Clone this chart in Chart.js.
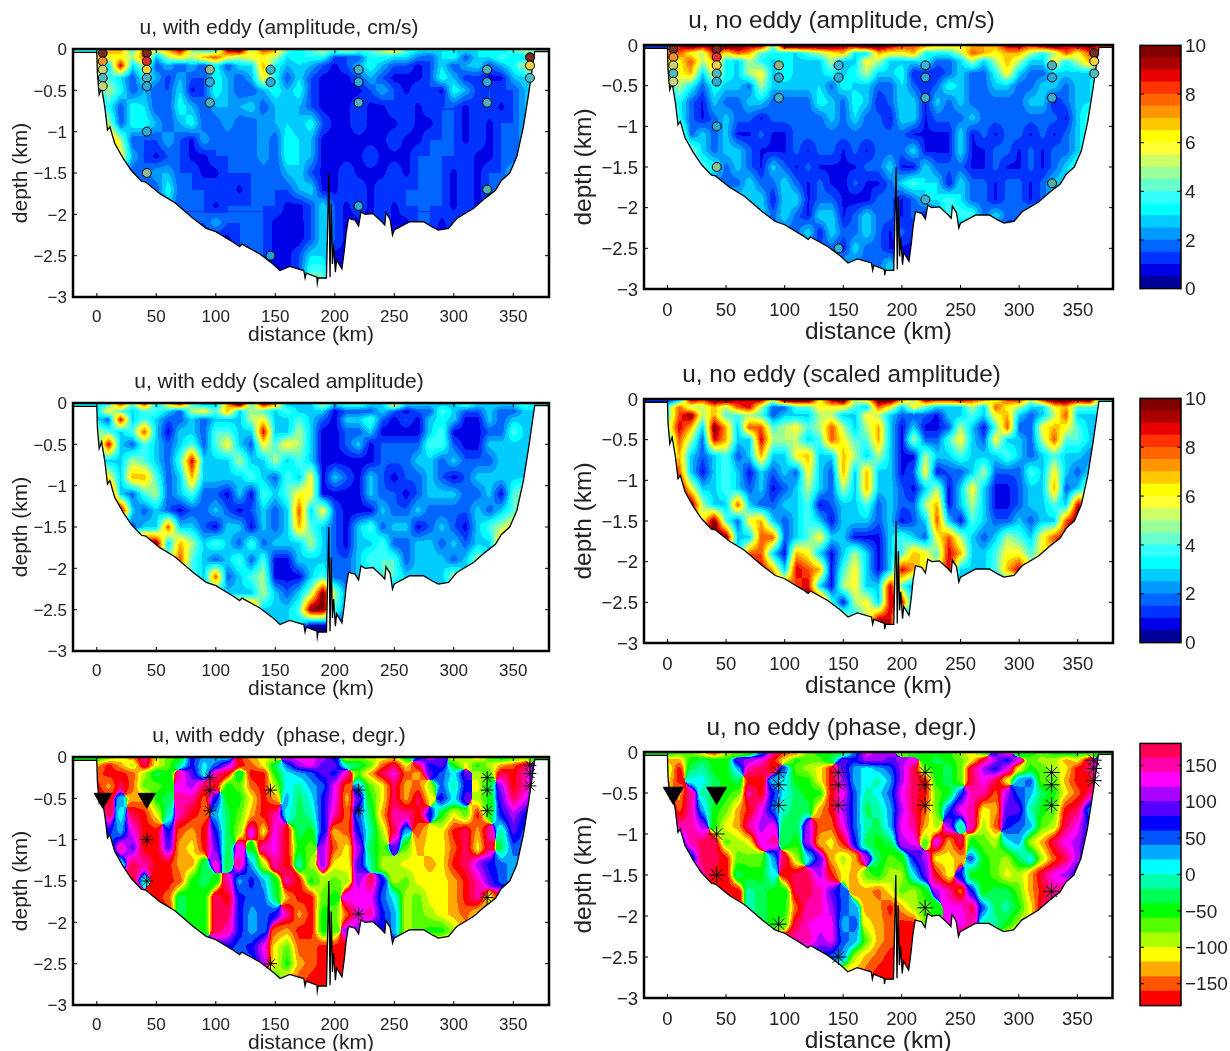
<!DOCTYPE html>
<html>
<head>
<meta charset="utf-8">
<script src="https://cdn.jsdelivr.net/npm/chart.js@4"></script>
<style>
  html, body { margin: 0; padding: 0; background: #fff; overflow: hidden; }
  body { position: relative; width: 1230px; height: 1051px; }
  canvas { position: absolute; }
</style>
</head>
<body>
<script>
// depth of each grid row (km) and the first station (km) each row holds; stations are 10 km apart
const rowDepths = [0.02, 0.1, 0.2, 0.35, 0.5, 0.7, 0.9, 1.1, 1.3, 1.5, 1.7, 1.9, 2.1, 2.3, 2.5, 2.7];
const rowFirstKm = [0, 0, 0, 0, 0, 0, 0, 10, 20, 30, 50, 60, 80, 110, 130, 150];

const ampEddy = [
  [3.5,7,7,4,8,5,7,9,5,4,4,9,10,5,8,7,4,3,4,5,4,5,4,4,5,6,4,3,3,3,3,3,3,3,3,4,5,4],
  [7,6,6,5,8,2.5,5,6,5,7,8,6,5,6,6,5,3,3.5,3.5,3.5,1.5,1.5,1.5,3.5,3.5,3,3,2,1.5,3,3.5,1.5,3,3,4,3,3,3],
  [6,3,9,3,5,1.5,2.5,1.5,2.5,1.5,3.5,1.5,3,3,7,3.5,2.5,3,2.5,1.5,.8,1.5,2.5,3.5,2.5,1.5,1.5,.8,1.5,3,1.5,2.5,3,1.5,2.5,3.5,5,4],
  [5,4,3,1.5,3.5,2.5,1.2,2.5,1.5,1.5,3.5,2.5,1.5,2.5,6,3.5,1.5,3,1.5,.8,.8,.8,1.5,2.5,1.5,.8,.8,.8,1.5,3.5,2.5,1.2,1.2,.8,.8,2.5,3,4],
  [3,5,3.5,1.5,2.5,1.5,1.5,3,.8,1.5,3.5,2.5,1.5,1.5,2.5,3.5,2.5,3.5,1.5,.8,.8,.8,.8,1.5,2.5,1.5,.8,1.5,1.5,.8,3.5,2.5,1.2,1.5,1.5,1.5,2.5,3],
  [3,3.5,1.5,3.5,3,1.5,1.5,3.5,2.5,1.5,2.5,2.5,2.5,3,1.5,2.5,3,2.5,1.5,.8,.8,.8,1.5,.8,.8,1.5,1.5,.8,1.5,1.5,1.5,.8,1.5,1.5,.8,1.5,2.5],
  [6,5,1.5,3.5,3.5,2.5,1.5,2.5,3.5,1.5,1.5,2.5,1.5,1.5,2.5,2.5,3,2.5,3.5,1.5,.8,.8,1.5,.8,.8,.8,1.5,.8,.8,1.5,1.5,.8,1.5,.8,1.5,1.5,2.5],
  [8,5,1.5,1.5,1.5,2.5,1.5,.8,2.5,1.5,1.5,1.5,1.5,2.5,1.5,3.5,3,2.5,.8,.8,.8,.8,.8,.8,1.5,.8,.8,1.5,1.5,1.5,.8,1.5,.8,1.5,1.5,2.5],
  [6,2.5,1.5,.8,1.5,1.5,.8,.8,1.5,1.5,1.5,1.5,2.5,1.5,3.5,3,2.5,.8,.8,.8,.8,1.5,.8,.8,.8,1.5,1.5,1.5,1.5,1.5,.8,.8,1.5,1.5,3],
  [1.5,1.5,2.5,2.5,1.5,1.5,.8,.8,1.5,1.5,1.5,1.5,1.5,2.5,3,1.5,.8,.8,1.5,.8,.8,.8,1.5,.8,1.5,1.5,1.5,.8,1.5,.8,1.5,1.5,3],
  [1.5,3.5,1.5,1.5,1.5,1.5,1.5,.8,1.5,1.5,1.5,1.5,2.5,3,.8,.8,1.5,1.5,.8,1.5,1.5,1.5,1.5,1.5,1.5,.8,1.5,.8,1.5,1.5],
  [2.5,1.5,1.5,1.5,.8,1.5,1.5,1.5,1.5,1.5,.8,.8,1.5,3,1.5,.8,1.5,.8,1.5,.8,1.5,1.5,1.5,1.5,.8,1.5,.8,1.5],
  [1.5,1.5,2.5,1.5,1.5,1.5,1.5,.8,.8,.7,1.5,3,1.5,.8,.8,.8,1.5,.8,.8,1.5,1.5,.8,1.5,1.5],
  [.8,1.5,1.5,1.5,.8,.7,.7,1.5,3,1.5,.8],
  [1.5,1.5,.8,.8,1.5,3,3,.8,.8],
  [.8,.8,1.5,4,4,.8]
];
const ampNoEddy = [
  [1,9,10,9,10,10,10,9,9,4,10,10,10,10,10,9,9,10,10,9,8,8,7,6,6,6,7,7,7,9,9,8,9,10,9,9,10,8],
  [8,8,6,5,9,6,8,7,4,3.5,3,3,4,5,6,7,3,3,7,6,6,7,3.5,3.5,3.5,5,8,7,6,7,7,5,3.5,5,8,6,8,6],
  [6,6,8,5,7,3.5,2.8,5,3.5,2.8,3.5,2.8,2.8,2.8,5,2.8,2.8,6,5,2.8,2.8,2.8,3.5,1.7,1.7,2.8,5,2.8,5,7,5,2.8,2.8,6,3.5,5,7,5],
  [5,6,7,2.8,6,3.5,2.8,5,6,2.8,3.5,2.8,2.8,2.8,3.5,2.8,3.5,5,2.8,2.8,3.5,1,1,1,1.7,2.8,1.7,1.7,3.5,6,2.8,1.7,1.7,2.8,2.8,2.8,2.8,4],
  [3,5,3.5,1.7,3.5,2.8,2.8,1.7,5,2.8,2.8,2.8,2.8,3,1.7,3.5,2.8,2.8,1.7,1.7,3,1.7,1,1.7,3.5,2.8,1.7,1.7,2.8,2.8,1.7,1.7,2.8,2.8,1.7,2.8,3,4],
  [3,3.5,1.7,.9,2.8,1.7,1.7,2.8,2.8,1.7,1.7,1.7,1.7,3.5,2.8,1.7,3.5,2.8,1,1.7,3,2.8,1,2.8,1.7,2.8,1.7,1.7,1.7,1.7,1.7,2.8,2.8,.9,1.7,2.8,3],
  [6,3.5,1.7,.9,1.7,2.8,1.7,1.7,.9,1.7,1.7,1.7,1.7,1.7,2.8,1.7,3,1.7,1.7,.9,3,2.8,.9,1.7,1.7,1.7,2.8,1.7,1.7,1.7,1.7,1.7,1.7,1.7,.9,2.8,4],
  [6,1.7,2.8,1.7,2.8,.9,.9,1.7,.9,.9,1.7,1.7,1.7,1.7,1.7,1.7,1.7,1.7,1.7,1.7,.9,.9,.9,.9,3,.9,1.7,.9,1.7,1.7,.9,1.7,.9,1.7,2.8,4],
  [5,2.8,1.7,2.8,2.8,1.7,.9,.9,.9,1.7,.9,1.7,1.7,.9,1.7,.9,1.7,1.7,1.7,3,.9,.9,.9,3,.9,.9,1.7,1.7,.9,1.7,.9,1.7,1.7,2.8,4],
  [4,3.5,1.7,2.8,1.7,.9,2.8,1.7,.9,1.7,.9,.9,.9,.9,1.7,1.7,3,.9,.9,3,1.7,1.7,1.7,.9,.9,1.7,.9,.9,1.7,.9,1.7,2.8,4],
  [1.7,1.7,3,1.7,1.7,3,1.7,.9,1.7,.9,.7,1.7,.9,.9,1.7,3,4,3,3,.9,3,1.7,1.7,.9,1.7,1.7,.9,1.7,2.8,3],
  [3,2.8,3,.9,3,3,.9,1.7,1.7,.9,.7,.7,1.7,1.7,.9,1.7,3,3,4,3,1.7,1.7,.9,1.7,1.7,.9,1.7,3],
  [3,1.7,3,1.7,.9,3,3,.9,1.7,3,1.7,1.7,.9,1.7,.9,1.7,4,4,4,1.7,3,1.7,1.7,3],
  [1.7,3,.9,3,1.7,1.7,3,1.7,.9,1.7,.9],
  [1.7,1.7,.9,3,1.7,1.7,.9,.9,.9],
  [3,1.7,1.7,1.7,3,.9]
];
const scaledEddy = [
  [3,4,8,4,8,2.8,6,8,4,2.8,2.8,7,10,4,9,7,2.8,2.8,2.8,5,2.8,4,4,2.8,2.8,6,2.8,2.8,2.8,2.8,2.8,4,2.8,2.8,2.8,2.8,4,3],
  [3,6,4,2.8,4,4,2.8,1.6,5,6,4,7,2.8,5,4,2.8,4,2.8,2.8,2.8,.7,1.6,1.6,1.6,2.8,1.6,.7,1.6,1.6,4,2.8,1.6,1.6,2.8,1.6,1.6,2.8,3],
  [3,1.6,9,2.8,4,2.8,1.6,1.6,2.8,1.6,2.8,2.8,2.8,5,6,2.8,2.8,4,2.8,1.6,.7,2.8,2.8,4,1.6,.7,1.6,.7,2.8,3.2,2.8,.7,.7,2.8,1.6,2.8,2.8,3],
  [5,4,2.8,4,8,2.8,.7,2.8,2.8,1.6,4,4,2.8,2.8,9,2.8,2.8,5,2.8,.7,.7,1.6,1.6,2.8,.7,.7,.7,.7,2.8,4,.7,.7,.7,1.6,1.6,4,2.8,3],
  [3,9,2.8,1.6,4,2.8,1.6,2.8,4,1.6,4,6,2.8,1.6,6,4,6,5,2.8,.7,.7,1.6,2.8,.7,1.6,1.6,1.6,1.6,4,4,1.6,.7,.7,2.8,2.8,2.8,2.8,3],
  [3,2.8,2.8,5,4,2.8,1.6,4,9,2.8,2.8,2.8,5,2.8,2.8,5,2.8,4,2.8,.7,.7,.7,.7,.7,1.6,1.6,1.6,2.8,2.8,1.6,2.8,1.6,1.6,1.6,2.8,2.8,3],
  [9,6,2.8,7,7,4,1.6,2.8,7,2.8,2.8,2.8,2.8,4,2.8,1.6,4,2.8,6,.7,2.8,1.6,.7,2.8,1.6,.7,1.6,1.6,2.8,1.6,.7,1.6,2.8,2.8,2.8,2.8,3],
  [10,2.8,1.6,4,5,1.6,2.8,4,1.6,1.6,.7,2.8,.7,4,2.8,4,6,6,.7,.7,.7,.7,2.8,1.6,1.6,.7,1.6,2.8,2.8,2.8,1.6,1.6,2.8,.7,4,5],
  [10,2.8,1.6,2.8,1.6,.7,1.6,1.6,2.8,1.6,.7,1.6,2.8,1.6,2.8,8,2.8,6,1.6,.7,.7,.7,2.8,1.6,1.6,2.8,1.6,1.6,1.6,1.6,2.8,1.6,2.8,4,5],
  [1.6,2.8,2.8,8,2.8,2.8,1.6,.7,2.8,2.8,.7,2.8,1.6,2.8,7,4,2.8,1.6,.7,2.8,4,1.6,2.8,2.8,.7,1.6,2.8,1.6,.7,2.8,4,5,6],
  [10,2.8,7,5,2.8,4,2.8,1.6,4,1.6,2.8,2.8,2.8,5,2.8,1.6,.7,2.8,2.8,4,1.6,1.6,2.8,2.8,1.6,2.8,1.6,2.8,2.8,7],
  [5,8,4,2.8,1.6,2.8,4,1.6,4,.7,.7,2.8,2.8,2.8,1.6,1.6,2.8,4,4,4,1.6,2.8,2.8,2.8,1.6,2.8,5,3],
  [4,2.8,8,1.6,2.8,4,5,.7,.7,.7,2.8,4,1.6,1.6,2.8,2.8,4,4,2.8,2.8,2.8,2.8,5,3],
  [2.8,2.8,2.8,5,2.8,1.6,2.8,5,10,5,2],
  [9,2.8,2.8,2.8,4,10,10,4,2],
  [3,3,3,0,0,1]
];
const scaledNoEddy = [
  [1,3,9,8,10,10,9,9,9,5,10,10,10,6,9,10,5,6,10,10,7,5,9,8,8,9,8,7,6,8,8,5,8,10,10,9,10,3],
  [4,8,5,5,7,5,8,9,5,1.6,1.6,4,4,6,6,6,4,2.8,8,6,2.8,6,4,2.8,2.8,2.8,5,2.8,8,6,5,2.8,2.8,6,7,4,4,4],
  [4,8,10,5,7,4,4,5,4,1.6,2.8,2.8,2.8,5,5,2.8,2.8,6,5,2.8,1.6,1.6,1.6,.8,2.8,2.8,4,2.8,6,7,2.8,1.6,2.8,5,8,2.8,2.8,3],
  [5,9,7,2.8,10,7,2.8,8,8,4,5,6,4,5,8,5,2.8,5,7,2.8,.8,2.8,.8,.8,1.6,5,2.8,.8,4,8,1.6,1.6,6,7,6,4,2.8,3],
  [3,8,5,1.6,9,7,2.8,2.8,9,5,5,5,2.8,4,8,6,4,4,7,2.8,.8,5,1.6,1.6,4,6,2.8,1.6,6,2.8,2.8,1.6,5,8,4,4,3],
  [3,7,2.8,1.6,2.8,4,1.6,2.8,7,2.8,2.8,6,7,2.8,2.8,7,5,2.8,5,2.8,.8,.8,5,2.8,2.8,4,2.8,2.8,2.8,4,2.8,1.6,2.8,4,2.8,2.8,2],
  [8,8,2.8,.8,2.8,4,2.8,.8,2.8,1.6,2.8,1.6,6,2.8,1.6,7,2.8,7,2.8,2.8,.8,1.6,6,.8,1.6,1.6,2.8,5,1.6,1.6,1.6,4,2.8,6,2.8,1.6,3],
  [10,6,2.8,2.8,4,2.8,1.6,2.8,.8,1.6,2.8,5,2.8,1.6,5,2.8,7,2.8,2.8,1.6,.8,2.8,5,.8,2.8,6,2.8,.8,.8,1.6,2.8,2.8,7,1.6,2.8,5],
  [10,5,2.8,2.8,8,2.8,1.6,1.6,2.8,2.8,4,.8,1.6,2.8,2.8,4,1.6,2.8,1.6,1.6,5,7,.8,2.8,5,2.8,.8,.8,1.6,2.8,2.8,4,2.8,9,8],
  [6,10,4,1.6,6,7,2.8,1.6,2.8,4,2.8,.8,2.8,2.8,2.8,1.6,2.8,.8,1.6,2.8,8,2.8,.8,4,2.8,1.6,1.6,2.8,1.6,2.8,2.8,8,10],
  [10,2.8,2.8,8,8,1.6,2.8,4,6,2.8,2.8,.8,.8,.8,2.8,4,2.8,1.6,6,8,5,2.8,1.6,2.8,5,4,2.8,6,8,9],
  [3,8,8,2.8,.8,7,6,2.8,.8,2.8,5,2.8,.8,2.8,4,7,6,4,9,7,2.8,2.8,4,6,6,4,6,7],
  [9,7,2.8,9,8,7,.8,4,6,2.8,.8,2.8,9,7,6,6,9,2.8,2.8,2.8,4,7,9,6],
  [8,9,2.8,.8,5,6,2.8,2.8,9,4,2],
  [10,4,.8,5,6,2.8,9,9,2],
  [6,3,5,9,9,2]
];
const phaseEddy = [
  [-50,-90,-110,-130,150,-110,-70,-50,70,30,30,30,-170,-130,-110,-90,110,130,130,110,70,-90,-70,-90,-110,-130,-50,70,110,90,-90,-90,-110,-70,-50,-70,-90,-50],
  [-130,-170,-130,-90,170,-110,-70,-10,70,10,50,110,-170,-150,-110,-30,50,110,130,90,90,-10,-30,-70,-150,170,-110,170,70,90,-50,-110,-50,-90,-130,-150,170,70],
  [-150,-170,-170,-150,-90,-30,-50,150,90,10,150,-170,-30,-170,-170,-50,10,30,50,90,70,150,-70,-130,170,130,-150,-130,90,50,10,90,-90,-70,170,-170,150,70],
  [-170,-130,170,-150,-70,-70,-50,130,110,170,-170,-50,-70,-150,-170,-90,10,-10,30,50,130,-150,30,-70,-110,170,-130,-150,-90,50,-10,70,-110,-30,110,-170,150,70],
  [170,-170,30,-130,-130,-50,-30,150,150,-150,70,-50,-50,-110,-170,-130,30,-30,10,70,130,-130,90,-50,-110,170,-130,170,-110,70,10,90,-90,-50,90,170,130,50],
  [70,170,10,170,-170,-110,-10,150,-170,-150,30,-30,-70,-130,-170,150,10,-30,-10,70,150,-150,50,-30,-130,150,150,-170,70,-50,-110,-70,-170,-50,70,110,70],
  [30,70,30,130,-170,-170,70,-150,-130,-170,70,-30,-90,130,-110,130,-170,-30,-50,70,-130,-150,70,-10,-90,170,30,-150,-110,-110,-170,170,-130,150,-10,90,50],
  [30,150,90,-170,-170,90,-130,-110,-170,90,-30,130,-50,150,130,-170,-50,-70,110,-150,-110,110,-30,-70,90,-70,-130,-110,-110,-150,170,-110,170,-30,50,50],
  [10,170,150,-170,-170,-130,-130,-30,130,-30,150,30,-90,150,-170,-10,-90,110,-110,-110,90,-10,-90,-90,-110,-110,-130,-110,-170,170,110,70,50,30,30],
  [170,10,-170,-170,-150,-50,-30,-50,150,30,70,30,-50,150,-170,-50,-90,-70,-90,110,170,70,-90,-70,-110,-110,-110,-130,-170,150,90,50,30],
  [-170,-150,-30,-50,-50,170,-170,70,50,50,-30,-130,-170,-170,-70,-50,130,130,130,50,10,-90,-70,-110,-110,-130,-170,150,-110,170],
  [-170,-30,-50,-50,170,170,70,30,50,70,150,-130,-170,-50,-70,-150,130,150,70,30,-90,-70,-90,-110,-130,-150,-110,-110],
  [-50,-50,170,150,70,30,50,-150,-130,-170,-170,-50,-70,110,110,70,70,30,-90,-70,-50,-50,-90,-130],
  [70,50,70,130,-110,-70,-150,-150,-170,-170,-170],
  [50,110,-110,-50,-130,-150,-170,-170,-170],
  [-50,-130,-150,-170,-170,-170]
];
const phaseNoEddy = [
  [-50,-70,-70,-110,-150,-90,-70,-50,50,150,-150,-130,-70,-50,-50,-30,50,130,110,110,-70,-50,-50,-50,-50,-90,-110,-70,90,130,-50,-50,-70,-50,-50,-50,-70,-50],
  [-130,-130,-50,-30,-50,-50,90,110,130,-170,-110,-50,-70,-70,-30,90,70,110,110,90,110,130,-50,-30,-50,-70,-110,170,110,70,130,-70,-90,-90,-130,-110,170,70],
  [-90,-170,-30,-10,-50,-50,30,150,170,-170,50,-70,-90,-110,-170,90,30,10,30,50,110,170,-70,-50,-30,-70,170,110,70,130,-110,-50,-70,-90,-110,-170,170,90],
  [-110,-170,10,10,-30,-50,-30,-170,-170,30,10,-50,-50,-110,-170,110,30,10,-10,30,110,170,-170,-50,-30,-70,170,130,170,-110,30,50,-70,-70,-130,-170,-170,30],
  [-150,-130,150,-10,-30,-50,-70,150,-170,70,10,-30,-50,-50,-170,130,50,-10,10,50,130,170,-170,-70,-50,50,150,150,-150,110,50,30,-30,-50,-110,-150,170,30],
  [110,-150,150,30,-50,-70,-130,-170,130,50,-10,-30,-30,-130,-170,110,50,-30,-10,30,110,170,-150,-70,50,130,150,-110,-130,90,90,-10,-50,-70,-170,170,50],
  [50,150,150,110,-50,-110,-130,150,110,130,-30,-30,110,-150,-150,130,50,-10,-30,30,130,150,-130,-90,110,-10,150,-90,-150,70,50,30,-70,-90,170,130,70],
  [70,150,170,170,-70,-90,-110,130,150,-30,-50,110,-130,-110,-170,70,-30,-50,-30,110,130,-70,130,-130,170,-50,-70,-90,10,30,-90,-130,170,130,110,70],
  [50,170,170,-170,-70,-70,-70,30,170,-90,10,90,-130,-90,-130,110,-30,-70,-50,70,110,-110,-110,-130,50,-50,-70,-90,-30,10,-90,-150,170,110,70],
  [150,-170,-170,-30,-50,-50,10,-170,170,170,110,-170,-110,-130,-70,-50,-90,-90,10,90,-170,-110,70,-50,-50,-70,-110,-90,-130,170,130,110,70],
  [-170,-170,-10,-30,-50,-50,170,170,150,90,50,-130,-130,-150,-110,-70,-90,-50,110,150,-150,70,-50,-30,-30,-70,-130,-170,150,170],
  [-170,-10,-30,-50,-50,-150,150,150,110,50,30,-130,-130,-170,-130,-90,-70,-50,130,130,170,50,-30,-10,-50,-110,170,150],
  [-30,-50,-70,170,140,130,130,30,50,-110,-130,-150,-170,-170,-70,-50,130,130,150,-10,-10,-50,-90,-130],
  [150,150,110,130,50,30,-70,-130,-150,-170,-170],
  [70,50,30,-90,-130,-150,-170,-170,-170],
  [-110,-130,-150,-170,-170,-170]
];

// bottom profile along the section
const bottomKm = [-20,0,0.5,2,4,6.7,9,11,15,22,29,37.5,41,53,65.6,81,92,100,115,120,122,137,148,154,162,174,175,176,185,185.3,186,193,195,196,197,198,199,200.5,201.5,206,208,209.5,211.5,217,220,222,225.5,232,239.5,242,243,246.5,248.5,250,263,274.5,281.5,287,295.5,302.5,316.5,326,335,340,347,353,358.5,363,368,380];
const bottomDepth = [0.04,0.04,0.3,0.55,0.47,0.7,0.98,0.94,1.14,1.32,1.47,1.6,1.61,1.75,1.86,2.05,2.17,2.21,2.34,2.39,2.36,2.48,2.6,2.68,2.63,2.68,2.77,2.71,2.76,2.83,2.77,2.77,1.5,2.76,1.87,2.6,2.37,2.7,2.55,2.66,2.44,2.23,2.05,2.07,2.14,1.97,2.0,1.99,2.09,2.13,1.98,2.06,2.25,2.19,2.09,2.09,2.15,2.19,2.17,2.05,1.93,1.81,1.71,1.59,1.5,1.3,0.94,0.53,0.03,0.03];

const xTicks = [0, 50, 100, 150, 200, 250, 300, 350];
const yTicks = [0, -0.5, -1, -1.5, -2, -2.5, -3];
const ampTicks = [0, 2, 4, 6, 8, 10];
const phaseTicks = [-150, -100, -50, 0, 50, 100, 150];

// colour bars, lowest level first
const ampColors = ["#000099","#0000e6","#0033ff","#0066ff","#0099ff","#00ccff","#00ffff","#33ffff","#66ffcc","#99ff99","#ccff66","#ffff33","#ffff00","#ffc800","#ff9500","#ff6600","#ff3300","#e60000","#aa0000","#800000"];
const phaseColors = ["#ff0000","#ff5500","#ffaa00","#ffff00","#aaff00","#55ff00","#00ff00","#00ff55","#00ffaa","#00ffff","#00aaff","#0055ff","#0000ff","#5500ff","#aa00ff","#ff00ff","#ff00aa","#ff0055"];

// moorings: distance, depth, colour of the amplitude at that point
const circlesEddy = [
  [5,.05,"#7a2a20"],[5,.15,"#e89030"],[5,.25,"#ccd070"],[5,.35,"#50b8c0"],[5,.45,"#cdd07a"],
  [42,.05,"#7a2a20"],[42,.15,"#d83030"],[42,.25,"#f5d040"],[42,.35,"#50b0c0"],[42,.45,"#30a8d0"],[42,1,"#30a8d0"],[42,1.5,"#90b890"],
  [95,.25,"#90b890"],[95,.4,"#30a8d8"],[95,.65,"#50b0c0"],
  [146,.25,"#40b0c8"],[146,.4,"#30a8d8"],[146,2.5,"#20a0d0"],
  [220,.25,"#40b0c8"],[220,.4,"#30a8d8"],[220,.65,"#50b0c0"],[220,1.9,"#30a8d0"],
  [328,.25,"#50b0b8"],[328,.4,"#30a8d8"],[328,.65,"#50b0c0"],[328,1.7,"#50b0b0"],
  [364,.1,"#7a2a20"],[364,.2,"#f5d040"],[364,.35,"#50b8c0"]
];
const circlesNoEddy = [
  [5,.05,"#7a2a20"],[5,.15,"#e89030"],[5,.25,"#ccd070"],[5,.35,"#50b8c0"],[5,.45,"#cdd07a"],
  [42,.05,"#7a2a20"],[42,.15,"#e03030"],[42,.25,"#f5d040"],[42,.35,"#50b8c0"],[42,.45,"#30a8d8"],[42,1,"#30a8d0"],[42,1.5,"#90c098"],
  [95,.25,"#90b080"],[95,.4,"#30a8d0"],[95,.65,"#40b0c8"],
  [146,.25,"#40b0d8"],[146,.4,"#30a8d8"],[146,2.5,"#30b0d0"],
  [220,.25,"#40b0d8"],[220,.4,"#30a8d8"],[220,.65,"#40b0c8"],[220,1.9,"#40b0d0"],
  [328,.25,"#50b0b8"],[328,.4,"#30a8d8"],[328,.65,"#40b0c8"],[328,1.7,"#50b0a8"],
  [364,.1,"#7a2a20"],[364,.2,"#f5d040"],[364,.35,"#50b8c0"]
];
const starsEddy = [[42,1],[42,1.5],[95,.25],[95,.4],[95,.65],[146,.4],[146,2.5],[220,.4],[220,.65],[220,1.9],[328,.25],[328,.4],[328,.65],[328,1.7],[364,.1],[364,.2],[364,.35]];
const starsNoEddy = [[42,1],[42,1.5],[95,.25],[95,.4],[95,.65],[95,2.1],[146,.25],[146,.4],[146,.65],[146,2.5],[220,.25],[220,.4],[220,.65],[220,1.9],[328,.25],[328,.4],[328,.65],[328,1.7],[364,.1],[364,.2],[364,.35]];
const triangles = [[5,.5],[42,.5]];

Chart.defaults.font.family = "'Liberation Sans', Arial, sans-serif";
Chart.defaults.color = "#222";
Chart.defaults.animation = false;

const hexRgb = h => [1, 3, 5].map(i => parseInt(h.slice(i, i + 2), 16));

// value of a gridded field at distance x, depth d (linear between grid nodes)
function sampler(rows) {
  const rowVal = (i, x) => {
    const row = rows[i];
    let c = (x - rowFirstKm[i]) / 10;
    c = Math.max(0, Math.min(row.length - 1, c));
    const c0 = Math.floor(c), c1 = Math.min(row.length - 1, c0 + 1);
    return row[c0] + (row[c1] - row[c0]) * (c - c0);
  };
  return (x, d) => {
    let i = 0;
    while (i < rowDepths.length - 2 && d > rowDepths[i + 1]) i++;
    let t = (d - rowDepths[i]) / (rowDepths[i + 1] - rowDepths[i]);
    t = Math.max(0, Math.min(1, t));
    return rowVal(i, x) * (1 - t) + rowVal(i + 1, x) * t;
  };
}

// filled contour style shading of the field, behind the datasets
function fieldPlugin(rows, colors, lo, step, isPhase) {
  const rgb = colors.map(hexRgb);
  let valueAt;
  if (isPhase) {
    const toRad = Math.PI / 180;
    const c = sampler(rows.map(r => r.map(v => Math.cos(v * toRad))));
    const s = sampler(rows.map(r => r.map(v => Math.sin(v * toRad))));
    valueAt = (x, d) => Math.atan2(s(x, d), c(x, d)) / toRad;
  } else {
    valueAt = sampler(rows);
  }
  return {
    id: "field",
    beforeDatasetsDraw(chart) {
      const { ctx, chartArea: a, scales } = chart;
      const w = Math.round(a.right - a.left), h = Math.round(a.bottom - a.top);
      const img = ctx.createImageData(w, h);
      for (let py = 0; py < h; py++) {
        const d = -scales.y.getValueForPixel(a.top + py + 0.5);
        for (let px = 0; px < w; px++) {
          const x = scales.x.getValueForPixel(a.left + px + 0.5);
          const k = Math.max(0, Math.min(rgb.length - 1, Math.floor((valueAt(x, d) - lo) / step)));
          const o = (py * w + px) * 4;
          img.data[o] = rgb[k][0];
          img.data[o + 1] = rgb[k][1];
          img.data[o + 2] = rgb[k][2];
          img.data[o + 3] = 255;
        }
      }
      ctx.putImageData(img, Math.round(a.left), Math.round(a.top));
    }
  };
}

// heavy box with short inward ticks on all sides
const framePlugin = {
  id: "frame",
  afterDraw(chart) {
    const { ctx, chartArea: a, scales } = chart;
    ctx.save();
    ctx.strokeStyle = "#000";
    ctx.lineWidth = 1;
    ctx.beginPath();
    scales.y.ticks.forEach(t => {
      const p = scales.y.getPixelForValue(t.value);
      ctx.moveTo(a.left, p); ctx.lineTo(a.left + 4, p);
      ctx.moveTo(a.right, p); ctx.lineTo(a.right - 4, p);
    });
    if (chart.config.type !== "bar") {
      scales.x.ticks.forEach(t => {
        const p = scales.x.getPixelForValue(t.value);
        ctx.moveTo(p, a.top); ctx.lineTo(p, a.top + 4);
        ctx.moveTo(p, a.bottom); ctx.lineTo(p, a.bottom - 4);
      });
    }
    ctx.stroke();
    ctx.lineWidth = chart.config.type === "bar" ? 1.5 : 2.5;
    ctx.strokeRect(a.left, a.top, a.right - a.left, a.bottom - a.top);
    ctx.restore();
  }
};

function addCanvas(left, top, width, height) {
  const c = document.createElement("canvas");
  c.width = width; c.height = height;
  c.style.left = left + "px"; c.style.top = top + "px";
  c.style.width = width + "px"; c.style.height = height + "px";
  document.body.appendChild(c);
  return c;
}

function section(p) {
  const big = p.big;
  const titleSize = big ? 24.3 : 21, tickSize = big ? 18.5 : 17, labelSize = big ? 24.5 : 21;
  const titleGap = big ? 23 : 20;
  const labelGapY = big ? 59 : 51, labelGapX = big ? 43 : 38;
  const marginLeft = Math.round(labelGapY + labelSize * 0.6);
  const marginBottom = Math.round(labelGapX + labelSize * 0.6);
  const marginTop = Math.round(titleGap + titleSize * 0.6);
  const marginRight = 12;
  const canvas = addCanvas(p.left - marginLeft, p.top - marginTop,
    p.right - p.left + marginLeft + marginRight, p.bottom - p.top + marginTop + marginBottom);

  const datasets = [{
    data: bottomKm.map((x, i) => ({ x, y: -bottomDepth[i] })),
    showLine: true, fill: "start", backgroundColor: "#fff",
    borderColor: "#000", borderWidth: 1.3, pointRadius: 0, tension: 0, order: 3
  }];
  if (p.circles) datasets.push({
    data: p.circles.map(c => ({ x: c[0], y: -c[1] })),
    pointBackgroundColor: p.circles.map(c => c[2]),
    pointBorderColor: "#000", pointBorderWidth: 1, pointRadius: 4.5, order: 1
  });
  if (p.stars) datasets.push({
    data: p.stars.map(c => ({ x: c[0], y: -c[1] })),
    pointStyle: "star", pointBorderColor: "#000", pointBorderWidth: 1, pointRadius: big ? 8 : 6.5, order: 1
  }, {
    data: triangles.map(c => ({ x: c[0], y: -c[1] })),
    pointStyle: "triangle", pointRotation: 180, pointBackgroundColor: "#000", pointBorderColor: "#000",
    pointRadius: big ? 11.5 : 10, order: 1
  });

  new Chart(canvas, {
    type: "scatter",
    data: { datasets },
    plugins: [fieldPlugin(p.rows, p.colors, p.lo, p.step, p.isPhase), framePlugin],
    options: {
      responsive: false,
      layout: { padding: { right: marginRight } },
      plugins: {
        legend: { display: false },
        tooltip: { enabled: false },
        title: {
          display: true, text: p.title,
          font: { size: titleSize, weight: "normal" },
          padding: { top: 0, bottom: marginTop - titleSize * 1.2 }
        }
      },
      scales: {
        x: {
          type: "linear", min: -20, max: 380,
          grid: { display: false, drawTicks: false }, border: { display: false },
          afterBuildTicks: s => { s.ticks = xTicks.map(value => ({ value })); },
          afterFit: s => { s.height = marginBottom; },
          ticks: { maxRotation: 0, autoSkip: false, padding: big ? 11 : 10, font: { size: tickSize } },
          title: { display: true, text: "distance (km)", padding: 0, font: { size: labelSize } }
        },
        y: {
          type: "linear", min: -3, max: 0,
          grid: { display: false, drawTicks: false }, border: { display: false },
          afterBuildTicks: s => { s.ticks = yTicks.map(value => ({ value })); },
          afterFit: s => { s.width = marginLeft; },
          ticks: {
            autoSkip: false, padding: 6, font: { size: tickSize }, labelOffset: 1.5,
            callback: v => String(v).replace("-", "\u2212")
          },
          title: { display: true, text: "depth (km)", padding: 0, font: { size: labelSize } }
        }
      }
    }
  });
}

function colorBar(top, bottom, colors, lo, step, ticks) {
  const canvas = addCanvas(1134, top - 14, 96, bottom - top + 28);
  new Chart(canvas, {
    type: "bar",
    data: {
      labels: [""],
      datasets: colors.map((c, i) => ({
        data: [[lo + i * step, lo + (i + 1) * step]],
        backgroundColor: c, borderWidth: 0, grouped: false,
        barPercentage: 1, categoryPercentage: 1
      }))
    },
    plugins: [framePlugin],
    options: {
      responsive: false,
      layout: { padding: { left: 6, top: 14, bottom: 14 } },
      plugins: { legend: { display: false }, tooltip: { enabled: false } },
      scales: {
        x: { display: false },
        y: {
          position: "right", min: lo, max: lo + colors.length * step,
          grid: { display: false, drawTicks: false }, border: { display: false },
          afterBuildTicks: s => { s.ticks = ticks.map(value => ({ value })); },
          afterFit: s => { s.width = 49; },
          ticks: {
            autoSkip: false, padding: 4, font: { size: 19 }, labelOffset: 1.5,
            callback: v => String(v).replace("-", "\u2212")
          }
        }
      }
    }
  });
}

const amp = { colors: ampColors, lo: 0, step: 0.5 };
const phase = { colors: phaseColors, lo: -180, step: 20, isPhase: true };
section({ ...amp, title: "u, with eddy (amplitude, cm/s)", rows: ampEddy, circles: circlesEddy, left: 73, right: 549, top: 49, bottom: 297 });
section({ ...amp, title: "u, no eddy (amplitude, cm/s)", rows: ampNoEddy, circles: circlesNoEddy, big: true, left: 644, right: 1113, top: 45, bottom: 289 });
section({ ...amp, title: "u, with eddy (scaled amplitude)", rows: scaledEddy, left: 73, right: 549, top: 403, bottom: 651 });
section({ ...amp, title: "u, no eddy (scaled amplitude)", rows: scaledNoEddy, big: true, left: 644, right: 1113, top: 399, bottom: 643 });
section({ ...phase, title: "u, with eddy  (phase, degr.)", rows: phaseEddy, stars: starsEddy, left: 73, right: 549, top: 757, bottom: 1005 });
section({ ...phase, title: "u, no eddy (phase, degr.)", rows: phaseNoEddy, stars: starsNoEddy, big: true, left: 644, right: 1113, top: 752, bottom: 998 });
colorBar(44, 290, ampColors, 0, 0.5, ampTicks);
colorBar(397, 644, ampColors, 0, 0.5, ampTicks);
colorBar(742, 1007, phaseColors, -180, 20, phaseTicks);
</script>
</body>
</html>
